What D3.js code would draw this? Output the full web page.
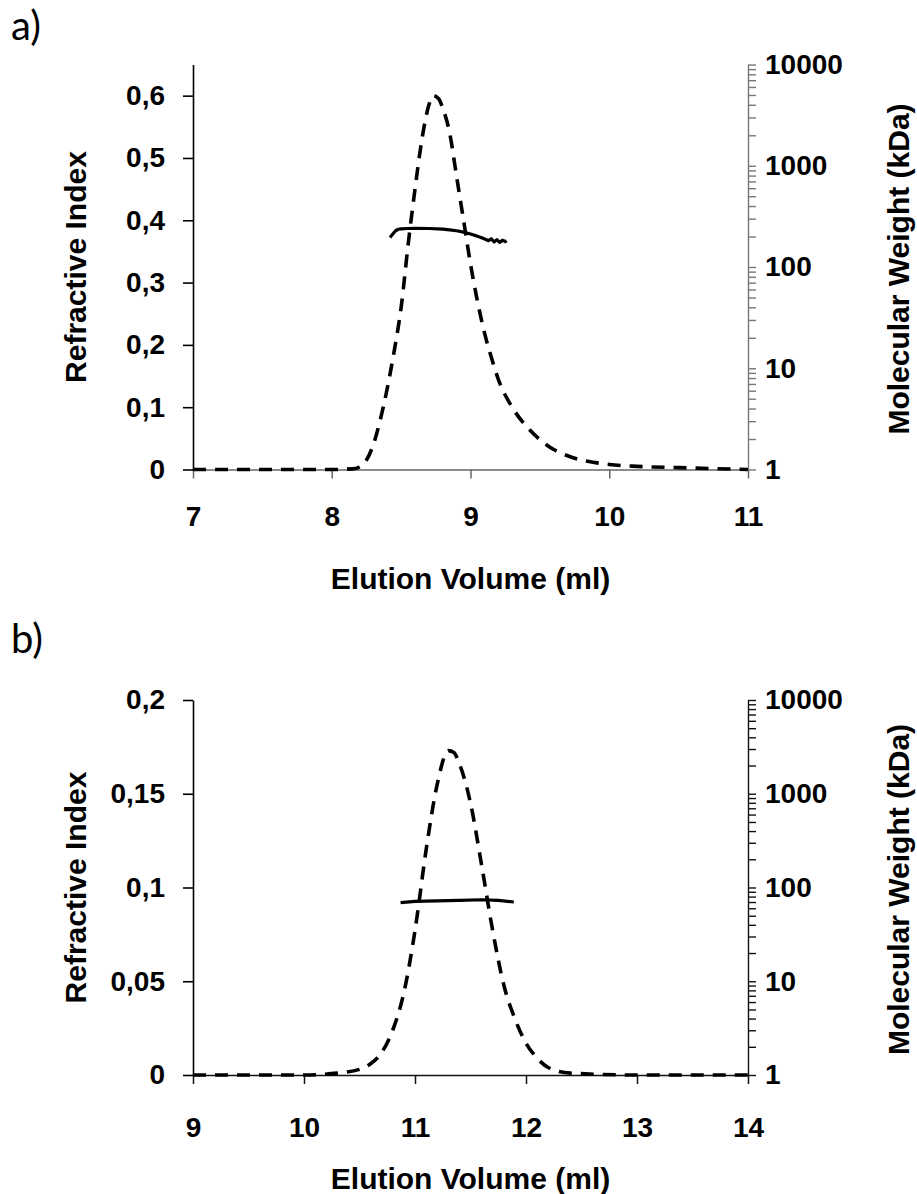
<!DOCTYPE html>
<html lang="en">
<head>
<meta charset="UTF-8">
<title>Elution profiles</title>
<script src="https://cdnjs.cloudflare.com/ajax/libs/d3/7.8.5/d3.min.js"></script>
<style>
    body {
        margin: 0;
        background: #fff;
    }
    svg {
        display: block;
        font-family: "Liberation Sans", Arial, sans-serif;
    }
    .tick text {
        font-size: 28px;
        font-weight: bold;
        fill: #000;
    }
    .title {
        font-size: 30px;
        font-weight: bold;
        fill: #000;
    }
    .panel-label {
        font-family: Lato, "Open Sans", sans-serif;
        font-size: 40px;
        fill: #000;
    }
    .ri {
        fill: none;
        stroke: #000;
        stroke-width: 3.6;
        stroke-dasharray: 13, 9;
    }
    .mw {
        fill: none;
        stroke: #000;
        stroke-width: 3.2;
        stroke-linejoin: round;
    }
</style>
</head>
<body>
<div id="chart"></div>
<script>

    // panel a: refractive index trace (dashed)
    var elutionA = [7.0, 8.0, 8.15, 8.2, 8.25, 8.3, 8.35, 8.4, 8.45, 8.5,
        8.55, 8.6, 8.65, 8.7, 8.73, 8.77, 8.8, 8.85, 8.9, 8.95,
        9.0, 9.05, 9.1, 9.15, 9.2, 9.3, 9.4, 9.5, 9.6, 9.7,
        9.8, 9.9, 10.0, 10.2, 10.5, 11.0];
    var riA = [0, 0, 0.001, 0.004, 0.015, 0.04, 0.08, 0.13, 0.19, 0.26,
        0.36, 0.45, 0.53, 0.585, 0.6, 0.595, 0.58, 0.54, 0.47, 0.40,
        0.33, 0.27, 0.22, 0.18, 0.145, 0.10, 0.07, 0.048, 0.032, 0.022,
        0.015, 0.011, 0.008, 0.005, 0.003, 0];

    // panel a: molecular weight (solid)
    var mwElutionA = [8.42, 8.44, 8.46, 8.48, 8.5, 8.55, 8.6, 8.7, 8.8, 8.85,
        8.9, 8.95, 9.0, 9.03, 9.05, 9.07, 9.09, 9.11, 9.13, 9.15,
        9.17, 9.19, 9.21, 9.23, 9.25, 9.26];
    var mwA = [196, 212, 228, 236, 238, 240, 241, 240, 237, 233,
        228, 221, 212, 206, 201, 197, 192, 187, 182, 190,
        177, 186, 175, 184, 178, 182];

    // panel b: refractive index trace (dashed)
    var elutionB = [9, 10, 10.3, 10.5, 10.6, 10.7, 10.8, 10.9, 11.0, 11.1,
        11.2, 11.3, 11.35, 11.4, 11.5, 11.6, 11.7, 11.8, 11.9, 12.0,
        12.1, 12.2, 12.4, 13, 14];
    var riB = [0, 0, 0.001, 0.003, 0.006, 0.012, 0.024, 0.044, 0.077, 0.12,
        0.155, 0.173, 0.172, 0.166, 0.145, 0.112, 0.077, 0.048, 0.03, 0.017,
        0.009, 0.004, 0.001, 0, 0];

    // panel b: molecular weight (solid)
    var mwElutionB = [10.87, 11.0, 11.2, 11.4, 11.6, 11.75, 11.89];
    var mwB = [69, 71, 72, 73, 74, 73, 70];

    // axis ticks
    var xTicksA = [7, 8, 9, 10, 11];
    var xTicksB = [9, 10, 11, 12, 13, 14];
    var riTicksA = [0, 0.1, 0.2, 0.3, 0.4, 0.5, 0.6];
    var riTicksB = [0, 0.05, 0.1, 0.15, 0.2];
    var mwTicks = [1, 10, 100, 1000, 10000];

    var width = 917, height = 1194;
    var plotLeft = 193, plotRight = 748;

    var svg = d3.select("#chart").append("svg")
        .attr("width", width)
        .attr("height", height);

    function commaFormat(d) {
        return String(d).replace(".", ",");
    }

    function zip(xs, ys) {
        return xs.map(function(v, i) { return [v, ys[i]]; });
    }

    function drawPanel(p) {
        var x = d3.scaleLinear().domain([p.xTicks[0], p.xTicks[p.xTicks.length - 1]]).range([plotLeft, plotRight]);
        var y = d3.scaleLinear().domain([0, p.riMax]).range([p.bottom, p.top]);
        var yMw = d3.scaleLog().domain([mwTicks[0], mwTicks[mwTicks.length - 1]]).range([p.bottom, p.top]);

        var g = svg.append("g");

        // panel letter
        g.append("text")
            .attr("class", "panel-label")
            .attr("x", 11)
            .attr("y", p.labelY)
            .text(p.label);

        // bottom axis
        var xAxis = g.append("g")
            .attr("transform", "translate(0," + p.bottom + ")")
            .call(d3.axisBottom(x).tickValues(p.xTicks).tickSize(9).tickSizeOuter(0).tickPadding(p.xPad).tickFormat(d3.format("d")));
        xAxis.selectAll("path, line").attr("stroke", p.xColor).attr("stroke-width", 1.5);

        // left axis
        var yAxis = g.append("g")
            .attr("transform", "translate(" + plotLeft + ",0)")
            .call(d3.axisLeft(y).tickValues(p.riTicks).tickSize(10).tickSizeOuter(0).tickPadding(18).tickFormat(commaFormat));
        yAxis.selectAll("path, line").attr("stroke", "#000").attr("stroke-width", 1.6);

        // right log axis with minor ticks
        var rAxis = g.append("g")
            .attr("transform", "translate(" + plotRight + ",0)")
            .call(d3.axisRight(yMw).tickValues(yMw.ticks()).tickSize(8).tickSizeOuter(0).tickPadding(9)
                .tickFormat(function(d) { return mwTicks.indexOf(d) >= 0 ? d : ""; }));
        rAxis.selectAll("path, line").attr("stroke", p.rColor).attr("stroke-width", 1.4);

        // axis titles
        g.append("text")
            .attr("class", "title")
            .attr("text-anchor", "middle")
            .attr("x", (plotLeft + plotRight) / 2)
            .attr("y", p.xTitleY)
            .text("Elution Volume (ml)");

        g.append("text")
            .attr("class", "title")
            .attr("text-anchor", "middle")
            .attr("transform", "translate(86," + (p.top + p.bottom) / 2 + ") rotate(-90)")
            .text("Refractive Index");

        g.append("text")
            .attr("class", "title")
            .attr("text-anchor", "middle")
            .attr("transform", "translate(909," + ((p.top + p.bottom) / 2 + 2) + ") rotate(-90)")
            .text("Molecular Weight (kDa)");

        // refractive index trace
        g.append("path")
            .datum(zip(p.ri[0], p.ri[1]))
            .attr("class", "ri")
            .attr("d", d3.line()
                .x(function(d) { return x(d[0]); })
                .y(function(d) { return y(d[1]); })
                .curve(d3.curveMonotoneX));

        // molecular weight trace
        g.append("path")
            .datum(zip(p.mw[0], p.mw[1]))
            .attr("class", "mw")
            .attr("d", d3.line()
                .x(function(d) { return x(d[0]); })
                .y(function(d) { return yMw(d[1]); }));
    }

    drawPanel({
        label: "a)", labelY: 40,
        top: 64.5, bottom: 469.5,
        riMax: 0.65, riTicks: riTicksA, xTicks: xTicksA,
        xPad: 28, xTitleY: 589,
        xColor: "#666", rColor: "#777",
        ri: [elutionA, riA], mw: [mwElutionA, mwA]
    });

    drawPanel({
        label: "b)", labelY: 653,
        top: 700, bottom: 1075,
        riMax: 0.2, riTicks: riTicksB, xTicks: xTicksB,
        xPad: 33, xTitleY: 1189,
        xColor: "#111", rColor: "#111",
        ri: [elutionB, riB], mw: [mwElutionB, mwB]
    });

</script>
</body>
</html>
